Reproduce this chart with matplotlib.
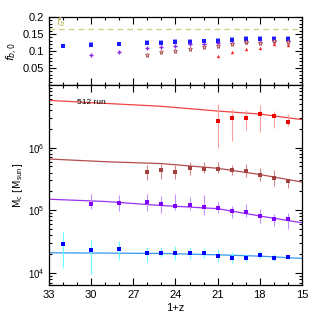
import numpy as np
import matplotlib
matplotlib.use("Agg")
import matplotlib.pyplot as plt
from matplotlib.ticker import MultipleLocator, LogLocator, NullFormatter, FixedLocator

plt.rcParams['font.family'] = ['Liberation Sans', 'DejaVu Sans']
plt.rcParams['mathtext.fontset'] = 'dejavusans'

# --- top panel: baryon fraction f_b,0 vs 1+z
fb_cosmic = 0.165
x_blue = [32, 30, 28, 26, 25, 24, 23, 22, 21, 20, 19, 18, 17, 16]
fb_blue = [0.115, 0.119, 0.120, 0.125, 0.124, 0.127, 0.126, 0.128, 0.130, 0.132, 0.134, 0.136, 0.136, 0.136]
fb_blue2 = [0.116, 0.120, 0.121, 0.126, 0.127, 0.129, 0.128, 0.130, 0.132, 0.134, 0.137, 0.138, 0.139, 0.139]
x_purple = [30, 28, 26, 25, 24, 23, 22, 21, 20, 19, 18, 17, 16]
fb_purple = [0.088, 0.098, 0.109, 0.112, 0.116, 0.120, 0.122, 0.124, 0.125, 0.127, 0.126, 0.129, 0.130]
x_brown = [26, 25, 24, 23, 22, 21, 20, 19, 18, 17, 16]
fb_brown = [0.087, 0.096, 0.099, 0.105, 0.111, 0.114, 0.121, 0.127, 0.125, 0.128, 0.126]
x_red = [21, 20, 19, 18, 17, 16]
fb_red = [0.084, 0.096, 0.106, 0.110, 0.122, 0.118]

# --- bottom panel: M_c with error ranges
M_blue = [2.84e4, 2.36e4, 2.4e4, 2.04e4, 2.08e4, 2.06e4, 2.08e4, 2.04e4, 1.87e4, 1.71e4, 1.71e4, 1.91e4, 1.71e4, 1.78e4]
M_blue_hi = [4.5e4, 3.4e4, 3.2e4, 2.6e4, 2.6e4, 2.67e4, 2.6e4, 2.5e4, 2.4e4, 2.14e4, 1.99e4, 2.22e4, 1.99e4, 1.91e4]
M_blue_lo = [1.2e4, 9.6e3, 1.6e4, 1.47e4, 1.76e4, 1.6e4, 1.65e4, 1.71e4, 1.48e4, 1.43e4, 1.47e4, 1.64e4, 1.52e4, 1.66e4]

M_purple = [1.28e5, 1.31e5, 1.33e5, 1.25e5, 1.17e5, 1.2e5, 1.13e5, 1.1e5, 9.9e4, 9.4e4, 8.0e4, 7.3e4, 7.2e4]
M_purple_hi = [1.8e5, 1.73e5, 1.8e5, 1.69e5, 1.82e5, 1.61e5, 1.73e5, 1.34e5, 1.17e5, 1.25e5, 1.05e5, 8.6e4, 8.96e4]
M_purple_lo = [1.04e5, 9.9e4, 9.6e4, 9.06e4, 1.0e5, 1.0e5, 8.3e4, 9.2e4, 7.5e4, 7.7e4, 6.3e4, 5.6e4, 5.0e4]

M_brown = [4.04e5, 4.35e5, 4.04e5, 4.73e5, 4.56e5, 4.63e5, 4.4e5, 4.3e5, 3.66e5, 3.27e5, 2.9e5]
M_brown_hi = [5.36e5, 5.56e5, 5.22e5, 6.0e5, 5.89e5, 6.0e5, 5.22e5, 5.56e5, 4.8e5, 4.35e5, 3.16e5]
M_brown_lo = [3.0e5, 3.12e5, 3.12e5, 3.7e5, 3.94e5, 3.9e5, 3.7e5, 3.41e5, 2.93e5, 2.42e5, 2.3e5]

M_red = [2.7e6, 2.97e6, 3.0e6, 3.4e6, 3.24e6, 2.6e6]
M_red_hi = [5.04e6, 4.13e6, 3.98e6, 4.77e6, 3.9e6, 3.43e6]
M_red_lo = [1.0e6, 1.27e6, 1.94e6, 1.8e6, 2.08e6, 2.21e6]

# fit curves
x_fit = [33, 29, 25, 21, 18, 15]
fit_red = [5.68e6, 5.09e6, 4.57e6, 3.84e6, 3.44e6, 2.8e6]
fit_brown = [6.58e5, 5.96e5, 5.56e5, 4.68e5, 3.72e5, 2.82e5]
fit_purple = [1.5e5, 1.38e5, 1.19e5, 1.06e5, 8.1e4, 6.3e4]
fit_blue = [2.09e4, 2.07e4, 2.04e4, 1.94e4, 1.85e4, 1.7e4]

fig = plt.figure(figsize=(3.19, 3.19), dpi=100)
ax1 = fig.add_axes([0.1536, 0.7335, 0.7931, 0.2132])
ax2 = fig.add_axes([0.1536, 0.1066, 0.7931, 0.6269], sharex=ax1)

ax1.axhline(fb_cosmic, color='#d0d08a', ls='--', lw=1, dashes=(4, 3))
ax1.text(32.5, 0.166, r'$f_b$', color='#b0a840', fontsize=7, va='bottom')
ax1.plot(x_blue, fb_blue2, 's', ms=2.6, color='#9999ff', mew=0)
ax1.plot(x_blue, fb_blue, 's', ms=2.3, color='#1a1aff', mew=0)
ax1.plot(x_purple, fb_purple, 'P', ms=3.0, color='#8a2be2', mew=0)
ax1.plot(x_brown, fb_brown, '*', ms=3.6, mfc='#e8b0b0', mec='#a04040', mew=0.5)
ax1.plot(x_red, fb_red, '^', ms=2.4, color='#ff1a1a', mew=0)
ax1.set_ylim(0, 0.2)
ax1.set_yticks([0.05, 0.1, 0.15, 0.2])
ax1.set_yticklabels(['0.05', '0.1', '0.15', '0.2'])
ax1.yaxis.set_minor_locator(MultipleLocator(0.01))
ax1.set_ylabel(r'$f_{b,0}$', fontsize=8, labelpad=2)
plt.setp(ax1.get_xticklabels(), visible=False)

def draw(ax, x, m, lo, hi, pc, ec):
    m = np.array(m)
    err = [m - np.array(lo), np.array(hi) - m]
    ax.errorbar(x, m, yerr=err, fmt='s', ms=2.2, color=pc, ecolor=ec,
                elinewidth=0.8, capsize=1.5, capthick=0.8, mew=0)

ax2.plot(x_fit, fit_red, color='#ee4444', lw=0.9)
ax2.plot(x_fit, fit_brown, color='#b34d4d', lw=0.9)
ax2.plot(x_fit, fit_purple, color='#9933ee', lw=0.9)
ax2.plot(x_fit, fit_blue, color='#3399ee', lw=0.9)
draw(ax2, x_red, M_red, M_red_lo, M_red_hi, '#ee0000', '#ffa0a0')
draw(ax2, x_brown, M_brown, M_brown_lo, M_brown_hi, '#a34040', '#d08888')
draw(ax2, x_purple, M_purple, M_purple_lo, M_purple_hi, '#7f00ff', '#c090ff')
draw(ax2, x_blue, M_blue, M_blue_lo, M_blue_hi, '#0000ff', '#66ffff')
ax2.text(31.0, 5.0e6, '512 run', fontsize=6)

ax2.set_yscale('log')
ax2.set_ylim(6.4e3, 1e7)
ax2.yaxis.set_major_locator(FixedLocator([1e4, 1e5, 1e6]))
ax2.yaxis.set_minor_locator(LogLocator(base=10, subs=np.arange(2, 10), numticks=20))
ax2.yaxis.set_minor_formatter(NullFormatter())
ax2.set_ylabel(r'$\mathrm{M_c\ [M_{sun}]}$', fontsize=7, labelpad=2)

ax2.set_xlim(33, 15)
ax2.set_xticks([33, 30, 27, 24, 21, 18, 15])
ax2.xaxis.set_minor_locator(MultipleLocator(1))
ax2.set_xlabel('1+z', fontsize=8, labelpad=2)

for ax in (ax1, ax2):
    ax.tick_params(which='both', direction='in', top=True, right=True, labelsize=8, width=0.8)
    ax.tick_params(which='major', length=5)
    ax.tick_params(which='minor', length=2.5)
    for s in ax.spines.values():
        s.set_linewidth(0.9)
ax2.tick_params(axis='y', labelsize=7)

fig.savefig('out.png', dpi=100)
